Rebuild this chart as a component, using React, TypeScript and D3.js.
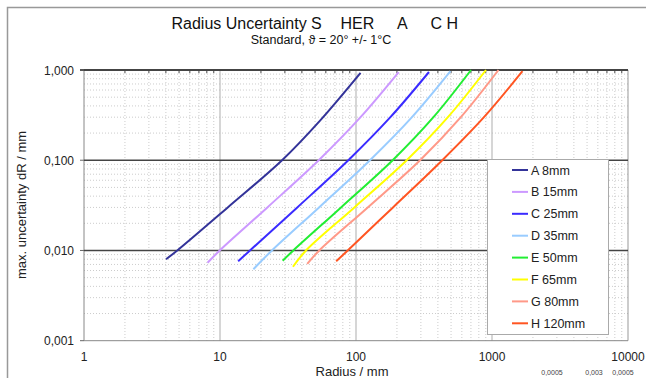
import React from "react";
import * as d3 from "d3";

const seriesNames = ["A 8mm", "B 15mm", "C 25mm", "D 35mm", "E 50mm", "F 65mm", "G 80mm", "H 120mm"];
const seriesColors = ["#333399", "#cc99ff", "#3a2bff", "#99ccff", "#22ee33", "#ffff00", "#ff9988", "#ff5522"];

const radiusA = [4.01, 4.85, 11.4, 28.6, 54.4, 108];
const dRA = [0.008, 0.01, 0.03, 0.1, 0.275, 0.93];
const radiusB = [8.1, 9.95, 22.3, 53.2, 108, 206];
const dRB = [0.0073, 0.01, 0.03, 0.1, 0.3, 0.948];
const radiusC = [13.6, 16.6, 37.0, 87.8, 179, 344];
const dRC = [0.0076, 0.01, 0.03, 0.1, 0.3, 0.95];
const radiusD = [17.6, 24.1, 53.5, 126.7, 258, 495];
const dRD = [0.0062, 0.01, 0.03, 0.1, 0.3, 0.97];
const radiusE = [28.9, 34.6, 77.6, 186, 371, 701];
const dRE = [0.0077, 0.01, 0.03, 0.1, 0.3, 1.0];
const radiusF = [34.4, 42.9, 97.3, 236, 474, 903];
const dRF = [0.0066, 0.01, 0.03, 0.1, 0.3, 1.0];
const radiusG = [43.8, 53.7, 122, 296, 590, 1116];
const dRG = [0.0071, 0.01, 0.03, 0.1, 0.3, 1.0];
const radiusH = [71.5, 86.9, 187, 431, 873, 1675];
const dRH = [0.0076, 0.01, 0.03, 0.1, 0.3, 0.97];

const xTickValues = [1, 10, 100, 1000, 10000];
const xTickLabels = ["1", "10", "100", "1000", "10000"];
const yTickValues = [1, 0.1, 0.01, 0.001];
const yTickLabels = ["1,000", "0,100", "0,010", "0,001"];
const footNotes = ["0,0005", "0,003", "0,0005"];

const allRadius = [radiusA, radiusB, radiusC, radiusD, radiusE, radiusF, radiusG, radiusH];
const allDR = [dRA, dRB, dRC, dRD, dRE, dRF, dRG, dRH];

const FONT = "'Liberation Sans', Arial, sans-serif";

export default function App() {
  const x = d3.scaleLog().domain([1, 10000]).range([84, 628]);
  const y = d3.scaleLog().domain([0.001, 1]).range([340.7, 70]);

  const minorX: number[] = [];
  for (let n = 0; n < 4; n++) for (let k = 2; k <= 9; k++) minorX.push(k * Math.pow(10, n));
  const minorY: number[] = [];
  for (let n = -3; n < 0; n++) for (let k = 2; k <= 9; k++) minorY.push(k * Math.pow(10, n));

  const line = d3
    .line<[number, number]>()
    .x((d) => x(d[0]))
    .y((d) => y(d[1]))
    .curve(d3.curveCatmullRom.alpha(0.5));

  const [x0, x1] = x.range();
  const [y0, y1] = y.range();

  return (
    <svg width={646} height={378} style={{ position: "absolute", left: 0, top: 0, background: "#fff" }} fontFamily={FONT}>
      <rect x={0} y={0} width={646} height={378} fill="#fff" />
      <path d="M7.5,400 L7.5,7.5 L700,7.5" fill="none" stroke="#999" strokeWidth={1.5} />

      <g fontSize={16} fill="#111">
        <text x={171.5} y={28.5}>Radius Uncertainty S</text>
        <text x={340.5} y={28.5}>HER</text>
        <text x={397} y={28.5}>A</text>
        <text x={430.5} y={28.5}>C H</text>
      </g>
      <text x={321} y={44} fontSize={12.5} textAnchor="middle" fill="#111">
        Standard, ϑ = 20° +/- 1°C
      </text>

      {minorX.map((v, i) => (
        <line key={"mx" + i} x1={x(v)} x2={x(v)} y1={y1} y2={y0} stroke="#cccccc" strokeWidth={1} strokeDasharray="1,2" />
      ))}
      {minorY.map((v, i) => (
        <line key={"my" + i} x1={x0} x2={x1} y1={y(v)} y2={y(v)} stroke="#cccccc" strokeWidth={1} strokeDasharray="1,2" />
      ))}
      {[10, 100, 1000].map((v) => (
        <line key={"vx" + v} x1={x(v)} x2={x(v)} y1={y1} y2={y0} stroke="#bbbbbb" strokeWidth={1.2} />
      ))}
      <line x1={x0} x2={x0} y1={y1} y2={y0} stroke="#888" strokeWidth={1} />
      <line x1={x1} x2={x1} y1={y1} y2={y0} stroke="#999" strokeWidth={1} />
      <line x1={x0} x2={x1} y1={y0} y2={y0} stroke="#888" strokeWidth={1} />
      {[0.1, 0.01].map((v) => (
        <line key={"hy" + v} x1={x0} x2={x1} y1={y(v)} y2={y(v)} stroke="#444" strokeWidth={1.6} />
      ))}
      <line x1={x0 - 4} x2={x1} y1={y1} y2={y1} stroke="#444" strokeWidth={2} />
      {minorX.map((v, i) => (
        <line key={"tt" + i} x1={x(v)} x2={x(v)} y1={y1} y2={y1 + 3} stroke="#444" strokeWidth={1} />
      ))}
      {yTickValues.map((v) => (
        <line key={"lt" + v} x1={x0 - 4} x2={x0} y1={y(v)} y2={y(v)} stroke="#666" strokeWidth={1} />
      ))}

      {allRadius.map((rs, i) => {
        const pts: [number, number][] = rs.map((r, j) => [r, allDR[i][j]]);
        return <path key={"s" + i} d={line(pts) || ""} fill="none" stroke={seriesColors[i]} strokeWidth={2} />;
      })}

      {yTickValues.map((v, i) => (
        <text key={"yl" + v} x={74} y={y(v) + 4.5} fontSize={12} textAnchor="end" fill="#222">
          {yTickLabels[i]}
        </text>
      ))}
      {xTickValues.map((v, i) => (
        <text key={"xl" + v} x={x(v)} y={361} fontSize={12} textAnchor="middle" fill="#222">
          {xTickLabels[i]}
        </text>
      ))}
      <text x={352} y={376} fontSize={13} textAnchor="middle" fill="#222">
        Radius / mm
      </text>
      <text transform="translate(26,205) rotate(-90)" fontSize={13} textAnchor="middle" fill="#222">
        max. uncertainty dR / mm
      </text>
      {footNotes.map((t, i) => (
        <text key={"fn" + i} x={[552, 594, 623][i]} y={375} fontSize={7} textAnchor="middle" fill="#444">
          {t}
        </text>
      ))}

      <rect x={487.5} y={159.5} width={121} height={175} fill="#fff" stroke="#aaa" strokeWidth={1} />
      {seriesNames.map((n, i) => {
        const cy = 170 + i * 21.9;
        return (
          <g key={"lg" + i}>
            <line x1={512} x2={528} y1={cy} y2={cy} stroke={seriesColors[i]} strokeWidth={2} />
            <text x={531} y={cy + 4.5} fontSize={12.5} fill="#222">
              {n}
            </text>
          </g>
        );
      })}
    </svg>
  );
}
